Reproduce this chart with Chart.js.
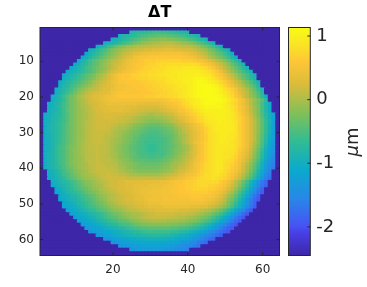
<!DOCTYPE html>
<html>
<head>
<meta charset="utf-8">
<title>Delta T</title>
<style>
  html, body { margin: 0; padding: 0; background: #fff; }
  canvas { position: absolute; left: 0; top: 0; }
</style>
<script src="https://cdn.jsdelivr.net/npm/chart.js@4"></script>
</head>
<body>
<canvas id="mapChart" width="367" height="287"></canvas>
<canvas id="barChart" width="367" height="287"></canvas>
<script>
// tick labels
const xTicks = [20, 40, 60];
const yTicks = [10, 20, 30, 40, 50, 60];
const barTicks = [-2, -1, 0, 1];

// colour range of the map, in micrometres
const rangeMin = -2.45;
const rangeMax = 1.134;
const gridSize = 64;

// first column of rows 2..63, everything else sits at the bottom of the range
const rowStart = [25, 22, 20, 18, 16, 14, 13, 12, 11, 10, 9, 8, 7, 7, 6, 6, 5, 5, 4, 4, 3, 3, 3,
  2, 2, 2, 2, 2, 2, 2, 2, 2, 2, 2, 2, 2, 2, 2, 2,
  3, 3, 3, 4, 4, 5, 5, 6, 6, 7, 7, 8, 9, 10, 11, 12, 13, 14, 16, 18, 20, 22, 25];

// cell values of rows 2..63 in hundredths of a micrometre
const rowValues = [
[-80,-75,-70,-70,-65,-65,-60,-60,-60,-60,-65,-65,-70,-75,-80,-85],
[-90,-85,-80,-75,-70,-60,-55,-50,-45,-45,-40,-40,-40,-45,-45,-50,-55,-60,-65,-75,-80,-90],
[-95,-90,-85,-75,-70,-60,-50,-45,-35,-30,-25,-20,-20,-15,-15,-20,-20,-25,-30,-35,-45,-50,-60,-70,-80,-90],
[-95,-90,-85,-80,-70,-60,-50,-40,-30,-25,-15,-10,-5,0,0,5,5,5,5,0,-5,-10,-15,-20,-30,-40,-50,-65,-75,-90],
[-100,-85,-75,-60,-50,-35,-25,-20,-10,-5,0,5,5,10,10,15,15,15,20,20,20,15,15,10,10,5,0,-10,-20,-30,-45,-60,-75,-95],
[-100,-90,-75,-60,-50,-35,-25,-15,-10,0,5,10,15,20,20,25,25,30,30,30,35,35,35,30,30,25,25,20,15,5,0,-10,-25,-35,-50,-65,-80,-95],
[-105,-90,-80,-65,-55,-40,-30,-20,-10,0,10,15,25,30,35,40,40,45,45,45,50,50,50,50,50,50,45,40,35,30,20,15,5,-10,-20,-35,-45,-60,-80,-95],
[-105,-95,-80,-65,-55,-40,-30,-20,-10,0,10,20,30,35,45,50,55,55,60,60,60,60,60,60,60,60,60,55,55,50,45,35,30,20,5,-5,-20,-30,-45,-60,-80,-95],
[-105,-90,-75,-60,-45,-35,-25,-15,-5,5,10,20,30,40,45,50,55,60,65,65,65,70,70,70,70,70,70,70,65,65,65,60,55,50,40,30,20,5,-5,-20,-35,-55,-70,-90],
[-105,-95,-80,-70,-55,-45,-35,-20,-10,0,10,20,25,35,40,50,55,60,60,65,70,70,75,75,75,80,80,80,80,80,80,80,80,75,65,60,50,40,25,15,0,-15,-35,-50,-70,-90],
[-105,-95,-85,-75,-60,-50,-40,-30,-20,-10,0,10,20,30,35,45,50,55,60,65,70,70,75,75,80,80,85,85,85,85,90,90,90,90,85,80,75,65,55,40,25,10,-5,-20,-35,-55,-75,-90],
[-105,-95,-90,-80,-70,-60,-50,-40,-25,-15,-5,10,20,30,35,45,50,55,60,65,70,70,75,75,80,80,85,85,90,90,90,95,95,95,95,95,90,85,80,70,60,40,25,5,-10,-25,-40,-60,-75,-90],
[-105,-95,-85,-75,-65,-55,-45,-35,-25,-10,0,10,25,35,45,55,60,60,65,70,70,75,75,80,80,80,85,85,90,90,90,95,95,95,100,100,100,95,90,90,75,65,55,40,25,10,-5,-25,-40,-55,-75,-90],
[-100,-90,-80,-70,-60,-50,-40,-30,-20,-5,5,15,25,35,45,55,60,60,65,65,70,70,70,75,75,80,80,80,85,90,90,95,95,100,100,105,105,105,100,95,85,75,65,50,35,20,5,-15,-35,-50,-70,-85],
[-105,-90,-80,-70,-60,-50,-40,-30,-20,-5,5,15,20,30,40,45,55,55,60,60,60,60,65,65,70,70,75,75,80,85,85,90,90,95,100,100,105,110,110,105,100,95,85,75,65,50,35,20,5,-15,-30,-50,-70,-90],
[-100,-85,-75,-60,-50,-40,-30,-20,-10,0,10,20,25,30,35,45,50,50,55,55,60,60,60,65,65,70,70,75,75,80,80,85,90,90,95,100,105,110,113,113,110,105,100,85,75,60,45,30,15,0,-20,-35,-55,-80],
[-100,-90,-80,-65,-55,-40,-25,-15,-5,5,10,15,25,30,30,40,45,50,50,55,55,55,60,60,60,65,65,70,70,75,75,80,85,85,90,95,100,105,110,113,113,113,110,105,100,85,75,65,50,30,15,0,-20,-40,-65,-85],
[-100,-90,-75,-60,-45,-30,-15,-5,5,15,20,25,30,30,35,45,50,55,55,55,55,55,55,60,60,60,65,65,70,70,75,75,80,85,90,95,100,105,110,113,113,113,110,105,100,90,80,70,55,35,20,5,-15,-30,-50,-80],
[-100,-90,-80,-60,-45,-30,-20,-5,5,15,20,30,30,35,40,45,50,55,60,60,60,60,60,60,60,65,65,65,70,70,70,75,75,80,85,90,95,100,105,110,113,113,113,113,110,105,95,85,75,60,45,25,5,-10,-25,-45,-70,-100],
[-100,-90,-80,-65,-45,-30,-20,-5,0,10,20,25,30,35,40,45,50,50,50,50,50,50,50,50,50,50,50,50,50,50,55,60,65,65,70,75,85,90,95,100,105,110,113,113,113,110,105,95,85,75,60,45,25,5,-10,-25,-45,-70],
[-100,-95,-85,-75,-60,-45,-30,-20,-10,0,5,15,20,25,30,35,40,40,40,40,40,40,40,40,35,35,35,35,35,35,40,45,50,55,60,65,75,80,90,95,100,105,110,110,110,105,105,100,90,80,70,55,40,25,5,-15,-30,-55,-80,-105],
[-100,-95,-85,-70,-60,-45,-30,-20,-10,0,5,10,20,25,30,30,35,35,35,35,35,30,30,30,25,25,25,25,25,25,30,35,40,45,50,60,65,75,80,90,95,100,105,105,105,105,105,100,95,85,75,60,45,30,10,-10,-25,-55,-80,-105],
[-100,-90,-85,-75,-60,-40,-30,-20,-10,-5,5,10,15,25,25,30,30,35,35,35,30,30,25,25,20,20,15,15,15,15,20,25,30,35,40,50,55,65,70,80,85,95,100,100,100,100,100,100,95,85,75,60,45,30,10,-10,-25,-55,-80,-105],
[-100,-95,-90,-80,-75,-60,-45,-30,-20,-10,-5,0,10,15,20,25,25,25,25,25,25,25,20,20,15,10,5,5,0,0,5,5,10,15,20,30,40,45,55,65,70,80,85,95,95,100,100,100,100,95,90,80,65,50,35,15,-5,-25,-50,-75,-100,-120],
[-100,-95,-85,-80,-70,-60,-45,-30,-20,-10,-5,0,10,15,20,20,25,25,25,20,20,15,15,10,5,0,-5,-10,-10,-10,-5,-5,0,5,10,20,30,35,45,55,65,75,80,90,95,95,100,100,100,95,90,80,70,55,40,20,0,-20,-45,-70,-95,-120],
[-100,-95,-85,-75,-70,-60,-45,-30,-20,-10,-5,5,10,15,20,20,20,20,20,20,15,15,10,5,0,-5,-10,-15,-20,-20,-20,-15,-10,-5,5,10,20,30,40,50,60,70,75,85,90,95,95,100,95,95,90,85,70,55,40,25,5,-15,-40,-65,-90,-120],
[-100,-90,-85,-75,-65,-55,-40,-30,-20,-10,-5,5,10,15,20,20,20,20,15,10,5,5,0,-10,-15,-20,-25,-30,-35,-35,-35,-30,-25,-20,-15,0,10,15,25,35,45,55,65,80,85,90,95,95,95,95,95,85,70,55,40,25,5,-15,-40,-65,-95,-120],
[-100,-90,-85,-75,-65,-55,-40,-30,-20,-10,-5,5,10,15,20,20,20,15,10,5,0,0,-10,-15,-25,-30,-35,-40,-45,-45,-45,-40,-35,-30,-25,-10,0,10,20,30,40,50,60,70,80,90,95,95,95,95,95,85,70,55,40,25,5,-15,-40,-65,-95,-120],
[-100,-90,-85,-75,-65,-55,-40,-30,-20,-10,-5,5,10,15,15,15,15,15,5,0,-5,-10,-15,-25,-30,-35,-40,-45,-50,-50,-50,-45,-40,-35,-30,-20,-5,5,15,25,35,45,55,70,80,85,95,95,95,95,90,85,70,55,40,25,5,-15,-40,-65,-95,-125],
[-100,-95,-85,-75,-65,-55,-40,-30,-20,-10,-5,5,10,15,15,15,10,10,5,0,-5,-15,-20,-30,-35,-40,-50,-50,-55,-55,-55,-50,-45,-40,-35,-25,-10,0,10,25,35,45,55,65,80,85,90,95,95,90,90,85,70,55,40,25,5,-20,-45,-70,-100,-125],
[-100,-95,-85,-75,-65,-55,-40,-30,-20,-10,-5,5,10,15,15,15,10,5,0,-5,-10,-15,-25,-30,-40,-45,-50,-55,-60,-60,-55,-55,-50,-45,-35,-25,-15,0,10,25,35,45,55,65,80,85,90,95,95,90,90,80,70,55,40,25,5,-20,-45,-75,-105,-125],
[-100,-95,-85,-75,-65,-50,-40,-30,-20,-10,0,5,10,15,15,15,10,5,0,-5,-10,-20,-25,-35,-40,-50,-55,-60,-60,-60,-60,-55,-50,-45,-35,-25,-15,0,10,25,40,50,60,70,80,85,90,95,90,90,85,80,70,55,40,20,0,-20,-50,-80,-110,-130],
[-100,-95,-85,-70,-60,-50,-35,-25,-20,-10,0,5,10,10,15,10,10,5,0,-10,-15,-25,-30,-40,-45,-50,-55,-60,-65,-65,-60,-55,-50,-45,-40,-30,-20,-10,0,15,30,45,55,70,80,85,90,90,90,90,90,80,70,55,40,20,-5,-30,-55,-90,-115,-135],
[-100,-95,-85,-70,-60,-50,-35,-25,-15,-10,0,5,10,10,15,10,10,5,0,-10,-15,-25,-30,-40,-45,-50,-55,-60,-65,-65,-60,-55,-50,-45,-35,-25,-20,-10,0,15,30,45,55,70,80,85,90,90,90,85,85,80,65,50,35,15,-10,-35,-65,-95,-120,-140],
[-100,-90,-85,-70,-60,-50,-35,-25,-15,-10,0,5,10,10,15,10,10,5,0,-5,-15,-20,-30,-35,-40,-50,-55,-55,-60,-60,-55,-55,-50,-40,-35,-25,-15,-5,5,20,30,45,60,70,80,85,90,90,85,85,85,75,60,45,30,10,-15,-40,-70,-100,-125,-145],
[-100,-90,-85,-70,-60,-50,-35,-25,-15,-10,-5,5,10,10,15,10,10,5,0,-5,-15,-20,-25,-35,-40,-45,-50,-50,-55,-55,-50,-50,-40,-35,-30,-20,-10,0,10,20,35,50,60,70,80,85,90,90,85,85,80,70,55,40,25,5,-20,-45,-75,-105,-130,-150],
[-100,-90,-85,-70,-60,-50,-35,-25,-15,-10,-5,5,10,10,15,10,10,10,5,0,-10,-15,-20,-30,-35,-40,-40,-45,-45,-45,-45,-40,-35,-30,-20,-10,-5,5,15,25,40,50,60,70,80,85,90,90,85,80,75,65,50,35,15,-5,-30,-55,-85,-115,-135,-155],
[-100,-90,-85,-75,-60,-50,-35,-25,-15,-10,-5,0,10,10,15,15,10,10,5,5,-5,-10,-15,-20,-25,-30,-35,-35,-35,-35,-35,-30,-25,-20,-10,-5,5,10,20,30,45,55,65,75,80,85,90,90,80,75,70,60,45,25,5,-15,-40,-65,-95,-125,-145,-160],
[-100,-90,-85,-75,-65,-50,-40,-30,-20,-10,-5,0,5,10,15,15,15,10,10,5,0,-5,-15,-20,-25,-30,-30,-30,-30,-30,-30,-25,-20,-15,-5,0,10,15,25,35,45,55,65,75,80,85,90,90,80,75,65,55,40,20,0,-20,-45,-70,-100,-130,-150,-165],
[-100,-95,-85,-70,-60,-45,-35,-25,-15,-10,-5,5,10,15,15,15,15,15,10,5,0,-5,-10,-15,-20,-20,-20,-20,-20,-20,-15,-10,-5,0,10,20,25,35,40,50,60,70,75,80,85,90,85,80,70,60,50,35,15,-5,-30,-55,-85,-110,-140,-160],
[-100,-95,-85,-75,-60,-50,-40,-30,-20,-10,-5,0,5,10,15,15,20,15,15,10,10,5,0,0,-5,-5,-5,-5,-5,-5,0,5,10,15,20,30,35,45,50,55,65,70,80,80,85,85,80,75,65,55,40,25,5,-15,-40,-65,-95,-120,-150,-165],
[-105,-100,-90,-80,-70,-55,-45,-35,-25,-15,-10,-5,0,5,10,15,20,20,20,20,20,15,15,15,15,15,15,15,15,15,15,20,25,30,35,40,45,55,60,65,70,75,80,80,85,80,75,70,60,45,30,15,-5,-30,-50,-80,-105,-135,-160,-175],
[-100,-95,-85,-80,-70,-60,-50,-40,-30,-20,-15,-10,0,5,10,15,20,20,25,25,30,30,30,30,30,35,35,35,35,40,40,45,50,55,55,60,65,65,70,75,75,75,75,75,75,65,55,45,30,10,-10,-35,-60,-90,-115,-140,-165,-180],
[-105,-100,-90,-85,-75,-65,-55,-45,-35,-25,-20,-10,-5,0,10,15,20,20,25,25,30,30,35,35,35,35,40,40,40,40,45,50,50,55,60,60,65,65,70,75,75,75,70,70,65,60,50,35,20,5,-20,-45,-70,-100,-125,-150,-170,-185],
[-105,-100,-90,-80,-70,-60,-50,-40,-35,-25,-15,-10,0,5,10,15,20,25,25,30,30,35,35,40,40,40,45,45,45,50,50,55,55,60,60,65,65,70,70,70,70,65,65,60,50,40,25,10,-10,-35,-60,-85,-115,-140,-165,-185],
[-110,-105,-95,-85,-75,-70,-60,-50,-40,-30,-25,-15,-5,0,5,10,15,20,25,25,30,35,35,40,40,45,45,45,50,50,50,55,55,60,60,60,65,65,65,65,65,60,55,50,40,30,10,-5,-25,-50,-75,-100,-130,-155,-175,-190],
[-110,-100,-95,-85,-80,-70,-60,-50,-45,-35,-25,-15,-10,0,5,10,15,20,25,25,30,35,35,40,40,45,45,45,50,50,50,50,55,55,55,60,60,60,60,55,55,50,40,30,15,-5,-20,-40,-65,-90,-120,-145,-170,-190],
[-110,-105,-95,-90,-85,-75,-65,-55,-50,-40,-30,-20,-10,0,5,10,15,20,25,25,30,35,35,40,45,45,45,45,50,50,50,50,50,50,50,55,55,55,55,50,45,40,30,20,5,-15,-30,-50,-80,-105,-135,-160,-180,-195],
[-110,-105,-100,-90,-80,-75,-65,-55,-45,-35,-30,-20,-10,-5,5,10,15,20,20,25,30,30,35,40,40,40,45,45,45,45,45,45,45,45,45,45,45,45,40,35,30,20,10,-5,-25,-45,-65,-90,-115,-140,-165,-185],
[-115,-110,-105,-95,-90,-80,-70,-60,-55,-45,-35,-30,-20,-10,-5,0,5,10,15,20,25,25,30,35,35,35,35,40,40,40,40,40,40,40,35,35,35,30,30,20,15,5,-5,-20,-35,-55,-80,-100,-125,-150,-170,-190],
[-120,-110,-105,-95,-90,-80,-70,-65,-55,-45,-40,-30,-20,-15,-10,-5,5,10,10,15,20,20,25,25,30,30,30,30,30,30,25,25,25,20,20,15,10,5,0,-10,-20,-35,-50,-70,-90,-110,-135,-155,-175,-195],
[-120,-115,-105,-100,-95,-85,-80,-70,-65,-55,-45,-35,-30,-25,-15,-10,-5,0,0,5,10,15,15,20,20,20,20,20,15,15,15,10,10,5,0,-5,-15,-20,-35,-45,-60,-80,-100,-120,-140,-160,-180,-195],
[-125,-115,-110,-105,-95,-90,-80,-70,-60,-50,-45,-40,-30,-25,-15,-10,-5,0,5,10,15,15,15,15,15,10,10,10,5,5,0,-5,-10,-15,-25,-30,-40,-55,-70,-85,-105,-125,-145,-165,-180,-195],
[-125,-120,-110,-105,-100,-90,-85,-75,-65,-60,-55,-45,-40,-35,-25,-20,-15,-10,-5,-5,0,0,0,0,-5,-5,-5,-10,-10,-15,-20,-25,-30,-40,-50,-60,-75,-90,-110,-125,-145,-165,-180,-195],
[-130,-125,-115,-110,-105,-95,-90,-80,-75,-70,-60,-55,-50,-45,-35,-30,-25,-25,-20,-20,-20,-20,-20,-20,-25,-25,-30,-30,-35,-40,-50,-55,-65,-75,-90,-105,-125,-140,-155,-170,-185,-195],
[-130,-125,-120,-115,-110,-100,-95,-90,-85,-80,-75,-65,-60,-55,-50,-45,-45,-40,-40,-40,-40,-40,-40,-45,-45,-50,-55,-60,-65,-70,-80,-90,-100,-115,-130,-145,-160,-175,-185,-195],
[-135,-130,-125,-120,-115,-110,-105,-100,-95,-90,-85,-80,-70,-70,-65,-60,-60,-60,-60,-60,-60,-60,-65,-65,-70,-75,-80,-90,-95,-105,-115,-125,-140,-150,-165,-175,-185,-195],
[-135,-130,-125,-120,-115,-105,-100,-95,-90,-90,-85,-85,-80,-80,-75,-75,-75,-75,-80,-80,-85,-90,-95,-100,-105,-115,-120,-130,-140,-150,-160,-170,-180,-190],
[-140,-135,-130,-125,-120,-115,-110,-105,-105,-100,-100,-95,-95,-95,-95,-95,-95,-100,-100,-105,-110,-115,-120,-125,-135,-145,-155,-165,-175,-185],
[-140,-135,-130,-125,-125,-120,-115,-115,-110,-110,-110,-110,-110,-110,-115,-115,-120,-120,-130,-135,-140,-150,-155,-165,-170,-180],
[-140,-135,-135,-130,-125,-125,-125,-120,-120,-120,-120,-125,-125,-125,-130,-135,-140,-145,-150,-155,-165,-170],
[-135,-135,-130,-130,-130,-130,-130,-130,-130,-135,-135,-140,-145,-150,-155,-160]
];

// colormap stops: position, r, g, b
const mapStops = [
  [0, 62, 38, 168], [0.1, 71, 64, 230], [0.127, 72, 82, 244], [0.25, 40, 135, 232],
  [0.375, 10, 170, 205], [0.5, 48, 188, 148], [0.625, 130, 192, 88], [0.75, 218, 188, 58],
  [0.85, 254, 198, 55], [0.92, 250, 226, 38], [1, 249, 251, 21]
];

function stopColor(frac) {
  let i = 0;
  while (i < mapStops.length - 2 && frac > mapStops[i + 1][0]) i++;
  const a = mapStops[i], b = mapStops[i + 1];
  const t = Math.min(1, Math.max(0, (frac - a[0]) / (b[0] - a[0])));
  const mix = n => Math.round(a[n] + (b[n] - a[n]) * t);
  return `rgb(${mix(1)},${mix(2)},${mix(3)})`;
}

function valueColor(v) {
  return stopColor((v - rangeMin) / (rangeMax - rangeMin));
}

// one square per cell, cells outside the aperture get the range minimum
const cells = [];
for (let r = 1; r <= gridSize; r++) {
  const vals = rowValues[r - 2] || [];
  const start = rowStart[r - 2] || 0;
  for (let c = 1; c <= gridSize; c++) {
    const v = vals[c - start];
    cells.push({ x: c, y: r, v: v === undefined ? rangeMin : v / 100 });
  }
}

const axisColor = '#262626';

// matlab style box with the ticks on the inside
const boxPlugin = {
  id: 'box',
  afterDraw(chart, args, opts) {
    const ctx = chart.ctx, a = chart.chartArea;
    ctx.save();
    ctx.strokeStyle = axisColor;
    ctx.lineWidth = 1;
    ctx.strokeRect(a.left, a.top, a.right - a.left, a.bottom - a.top);
    ctx.beginPath();
    (opts.yValues || []).forEach(v => {
      const y = chart.scales.y.getPixelForValue(v);
      if (opts.bothSides) { ctx.moveTo(a.left, y); ctx.lineTo(a.left + 3, y); }
      ctx.moveTo(a.right, y); ctx.lineTo(a.right - 3, y);
    });
    (opts.xValues || []).forEach(v => {
      const x = chart.scales.x.getPixelForValue(v);
      ctx.moveTo(x, a.bottom); ctx.lineTo(x, a.bottom - 3);
      ctx.moveTo(x, a.top); ctx.lineTo(x, a.top + 3);
    });
    ctx.stroke();
    ctx.restore();
  }
};

new Chart(document.getElementById('mapChart'), {
  type: 'scatter',
  plugins: [boxPlugin],
  data: {
    datasets: [{
      label: 'ΔT',
      data: cells,
      clip: 0,
      pointStyle: 'rect',
      // squares overlap a little, otherwise the antialiased edges show a grid
      pointRadius: 3.4,
      pointBorderWidth: 0,
      pointBackgroundColor: c => valueColor(c.raw.v)
    }]
  },
  options: {
    responsive: false,
    animation: false,
    events: [],
    layout: { padding: { left: 0, top: 0, right: 87.5, bottom: 0 } },
    plugins: {
      legend: { display: false },
      tooltip: { enabled: false },
      title: {
        display: true,
        text: 'ΔT',
        fullSize: false,
        color: '#000',
        font: { family: 'DejaVu Sans', size: 16, weight: 'bold', lineHeight: 1.2 },
        padding: { top: 3, bottom: 5.3 }
      },
      box: { xValues: xTicks, yValues: yTicks, bothSides: true }
    },
    scales: {
      x: {
        type: 'linear',
        min: 0.5,
        max: gridSize + 0.5,
        grid: { display: false, drawTicks: false },
        border: { display: false },
        afterBuildTicks: axis => { axis.ticks = xTicks.map(value => ({ value })); },
        afterFit: axis => { axis.height = 31.5; },
        ticks: {
          color: axisColor,
          font: { family: 'DejaVu Sans', size: 12 },
          padding: 7.5,
          maxRotation: 0,
          autoSkip: false
        }
      },
      y: {
        type: 'linear',
        reverse: true,
        min: 0.5,
        max: gridSize + 0.5,
        grid: { display: false, drawTicks: false },
        border: { display: false },
        afterBuildTicks: axis => { axis.ticks = yTicks.map(value => ({ value })); },
        afterFit: axis => { axis.width = 40; },
        ticks: {
          color: axisColor,
          font: { family: 'DejaVu Sans', size: 12 },
          padding: 6,
          autoSkip: false
        }
      }
    }
  }
});

// colour bar, a single floating bar filled with the colormap
function barFill(c) {
  const area = c.chart.chartArea;
  if (!area) return 'rgb(62,38,168)';
  const g = c.chart.ctx.createLinearGradient(0, area.bottom, 0, area.top);
  mapStops.forEach(s => g.addColorStop(s[0], `rgb(${s[1]},${s[2]},${s[3]})`));
  return g;
}

// unit label of the colour bar, reads upwards
const unitPlugin = {
  id: 'unitLabel',
  afterDraw(chart) {
    const ctx = chart.ctx;
    ctx.save();
    ctx.translate(358, 156.5);
    ctx.rotate(-Math.PI / 2);
    ctx.fillStyle = axisColor;
    ctx.textBaseline = 'alphabetic';
    ctx.font = 'italic 18px "DejaVu Sans"';
    ctx.fillText('μ', 0, 0);
    const w = ctx.measureText('μ').width;
    ctx.font = '18px "DejaVu Sans"';
    ctx.fillText('m', w, 0);
    ctx.restore();
  }
};

new Chart(document.getElementById('barChart'), {
  type: 'bar',
  plugins: [boxPlugin, unitPlugin],
  data: {
    labels: ['μm'],
    datasets: [{
      data: [[rangeMin, rangeMax]],
      backgroundColor: barFill,
      barPercentage: 1,
      categoryPercentage: 1
    }]
  },
  options: {
    responsive: false,
    animation: false,
    events: [],
    layout: { padding: { left: 288.5, top: 27.5, right: 0, bottom: 31.5 } },
    plugins: {
      legend: { display: false },
      tooltip: { enabled: false },
      box: { yValues: barTicks }
    },
    scales: {
      x: { display: false, grid: { display: false } },
      y: {
        position: 'right',
        min: rangeMin,
        max: rangeMax,
        grid: { display: false, drawTicks: false },
        border: { display: false },
        afterBuildTicks: axis => { axis.ticks = barTicks.map(value => ({ value })); },
        afterFit: axis => { axis.width = 56.7; },
        ticks: {
          color: axisColor,
          font: { family: 'DejaVu Sans', size: 18 },
          padding: 6,
          autoSkip: false,
          callback: v => String(v)
        }
      }
    }
  }
});
</script>
</body>
</html>
